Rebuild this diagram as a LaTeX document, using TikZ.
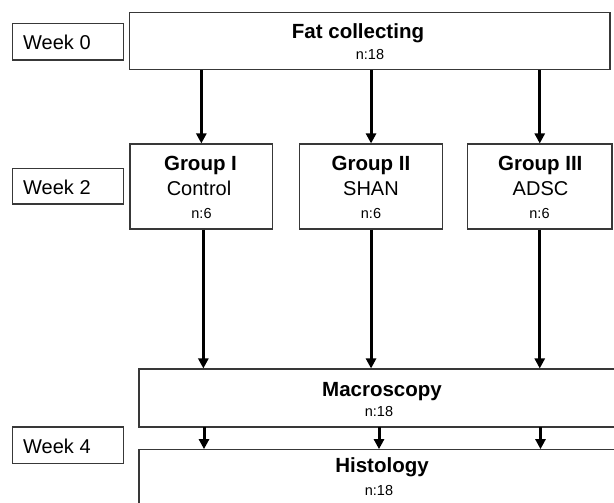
\documentclass[tikz,border=0pt]{standalone}
\usepackage{fontspec}
\setmainfont{Liberation Sans}
\usetikzlibrary{arrows.meta}
\tikzset{
  box/.style={draw=black!78, line width=1.1pt, fill=white, rectangle, inner sep=0pt},
  title/.style={anchor=base, inner sep=0pt, font=\fontsize{20.5}{24}\selectfont\bfseries},
  sub/.style={anchor=base, inner sep=0pt, font=\fontsize{20}{24}\selectfont},
  count/.style={anchor=base, inner sep=0pt, font=\fontsize{14.5}{17}\selectfont},
  weektxt/.style={anchor=base west, inner sep=0pt, font=\fontsize{20}{24}\selectfont},
  arr/.style={line width=3pt, -{Triangle[width=10pt,length=10pt]}}
}
\begin{document}
\begin{tikzpicture}[x=1pt,y=-1pt]
\useasboundingbox (0,0) rectangle (614,503);
\clip (0,0) rectangle (614,503);
% week boxes
\node[box, minimum width=111.4pt, minimum height=36.3pt] (w0) at (68,41.85) {};
\node[box, minimum width=111.4pt, minimum height=35.7pt] (w2) at (68,186.15) {};
\node[box, minimum width=111.4pt, minimum height=36.7pt] (w4) at (68,445.35) {};
\node[weektxt] (w0t) at (23,49.3) {Week 0};
\node[weektxt] (w2t) at (23,194) {Week 2};
\node[weektxt] (w4t) at (23,453.7) {Week 4};
% fat collecting
\node[box, minimum width=480.3pt, minimum height=57pt] (fat) at (369.85,40.8) {};
\node[title] (fatt) at (358,38.3) {Fat collecting};
\node[count] (fatn) at (370,60) {n:18};
% groups
\node[box, minimum width=142.7pt, minimum height=85pt] (g1) at (201.35,186.5) {};
\node[box, minimum width=143.7pt, minimum height=85pt] (g2) at (371.05,186.5) {};
\node[box, minimum width=144.5pt, minimum height=85pt] (g3) at (539.75,186.5) {};
\node[title] (g1t) at (200.5,170.5) {Group I};
\node[sub]   (g1s) at (199,195) {Control};
\node[count] (g1n) at (201.5,218.3) {n:6};
\node[title] (g2t) at (371,170.5) {Group II};
\node[sub]   (g2s) at (371,195) {SHAN};
\node[count] (g2n) at (371,218.3) {n:6};
\node[title] (g3t) at (540.3,170.5) {Group III};
\node[sub]   (g3s) at (540.5,195) {ADSC};
\node[count] (g3n) at (539.5,218.3) {n:6};
% macroscopy / histology
\node[box, minimum width=485pt, minimum height=58pt] (mac) at (381.5,398) {};
\node[title] (mact) at (382,396) {Macroscopy};
\node[count] (macn) at (379,416.7) {n:18};
\node[box, minimum width=485pt, minimum height=75.3pt] (his) at (381.5,487.35) {};
\node[title] (hist) at (382,472.3) {Histology};
\node[count] (hisn) at (379,495) {n:18};
% arrows fat -> groups
\draw[arr] (fat.south -| g1) -- (g1.north);
\draw[arr] (fat.south -| g2) -- (g2.north);
\draw[arr] (fat.south -| g3) -- (g3.north);
% arrows groups -> macroscopy
\draw[arr] ([xshift=2pt]g1.south) -- ([xshift=2pt]g1.south |- mac.north);
\draw[arr] (g2.south) -- (g2.south |- mac.north);
\draw[arr] (g3.south) -- (g3.south |- mac.north);
% arrows macroscopy -> histology
\coordinate (m1) at (204,427);
\coordinate (m2) at (379,427);
\coordinate (m3) at (540.5,427);
\draw[arr] (m1) -- (m1 |- his.north);
\draw[arr] (m2) -- (m2 |- his.north);
\draw[arr] (m3) -- (m3 |- his.north);
\end{tikzpicture}
\end{document}
